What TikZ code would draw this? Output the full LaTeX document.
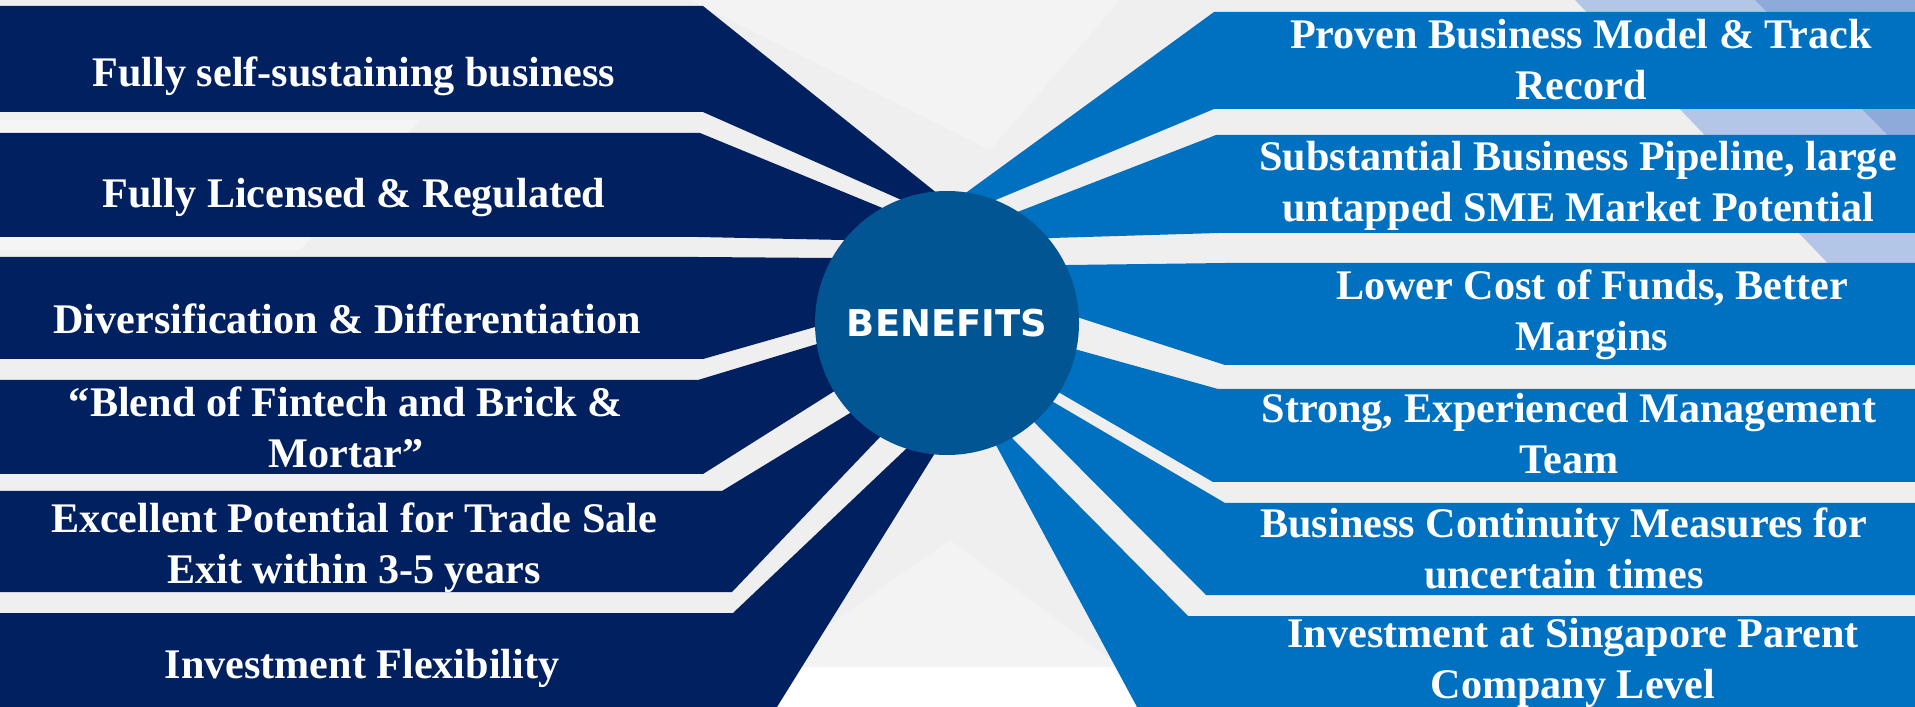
\documentclass[tikz,border=0pt]{standalone}
\usepackage{fontspec}
\setmainfont{Liberation Serif}
\newfontfamily\hubfont{DejaVu Sans}
\usetikzlibrary{calc}

\definecolor{navy}{HTML}{002060}
\definecolor{midblue}{HTML}{0070C0}
\definecolor{hubblue}{HTML}{025593}
\definecolor{bggrey}{HTML}{EFEFEF}
\definecolor{bandlight}{HTML}{B4C6E7}
\definecolor{banddark}{HTML}{8EAADB}

% one arm of the star: colour, outer x, top, bottom,
% corner x of top edge, where top edge meets hub, corner x of bottom edge, where it meets hub
\newcommand{\spoke}[8]{%
  \fill[#1] (#2,#3) -- (#5,#3) -- ($(#5,#3)!1.08!(#6)$) -- (c)
    -- ($(#7,#4)!1.08!(#8)$) -- (#7,#4) -- (#2,#4) -- cycle;}

\begin{document}
\begin{tikzpicture}[x=0.1mm,y=-0.1mm,
  armtext/.style={text=white,inner sep=0pt,align=center,
    font=\bfseries\fontsize{12}{14.5}\selectfont},
  hub/.style={circle,fill=hubblue,minimum size=26.4mm,inner sep=0pt,
    text=white,font=\hubfont\bfseries\fontsize{10.5}{12}\selectfont}]
\useasboundingbox (0,0) rectangle (1915,707);

% background
\fill[white] (0,0) rectangle (1915,707);
\fill[bggrey] (0,0) rectangle (1915,667);
\fill[white,opacity=.3] (690,0) -- (1120,0) -- (990,150) -- cycle;
\fill[white,opacity=.3] (770,667) -- (1120,667) -- (950,540) -- cycle;
\fill[white,opacity=.4] (0,120) -- (420,120) -- (300,250) -- (0,250) -- cycle;
\fill[bandlight] (1575,0) -- (1915,0) -- (1915,354) -- cycle;
\fill[banddark] (1755,0) -- (1915,0) -- (1915,163) -- cycle;

\coordinate (c) at (947,322);

% left arms
\spoke{navy}{0}{6}{112}{703}{933,190}{703}{897,198}
\spoke{navy}{0}{133}{237}{700}{880,207}{698}{843,240}
\spoke{navy}{0}{257}{359}{698}{832,258}{703}{815,327}
\spoke{navy}{0}{380}{474}{698}{817,344}{703}{833,392}
\spoke{navy}{0}{491}{592}{722}{850,413}{732}{880,437}
\spoke{navy}{0}{613}{707}{733}{907,448}{777}{935,453}

% right arms
\spoke{midblue}{1915}{12}{109}{1214}{967,192}{1214}{998,199}
\spoke{midblue}{1915}{135}{233}{1216}{1020,211}{1218}{1052,238}
\spoke{midblue}{1915}{263}{365}{1226}{1068,265}{1225}{1080,318}
\spoke{midblue}{1915}{389}{482}{1218}{1078,350}{1213}{1060,393}
\spoke{midblue}{1915}{503}{595}{1225}{1055,403}{1206}{1035,423}
\spoke{midblue}{1915}{616}{707}{1188}{1012,438}{1137}{997,447}

\node[hub] (hub) at (947,323) {BENEFITS};

\node[armtext] (selfsust) at (354,76) {Fully self-sustaining business};
\node[armtext] (licensed) at (354,198) {Fully Licensed \& Regulated};
\node[armtext] (diversif) at (347,319) {Diversification \& Differentiation};
\node[armtext] (blend) at (346,427) {“Blend of Fintech and Brick \&\\Mortar”};
\node[armtext] (tradesale) at (354,548) {Excellent Potential for Trade Sale\\Exit within 3-5 years};
\node[armtext] (flexib) at (362,668) {Investment Flexibility};

\node[armtext] (proven) at (1581,60) {Proven Business Model \& Track\\Record};
\node[armtext] (pipeline) at (1578,186) {Substantial Business Pipeline, large\\untapped SME Market Potential};
\node[armtext] (funds) at (1592,315) {Lower Cost of Funds, Better\\Margins};
\node[armtext] (mgmt) at (1569,434) {Strong, Experienced Management\\Team};
\node[armtext] (continuity) at (1564,548) {Business Continuity Measures for\\uncertain times};
\node[armtext] (parent) at (1573,663) {Investment at Singapore Parent\\Company Level};
\end{tikzpicture}
\end{document}
